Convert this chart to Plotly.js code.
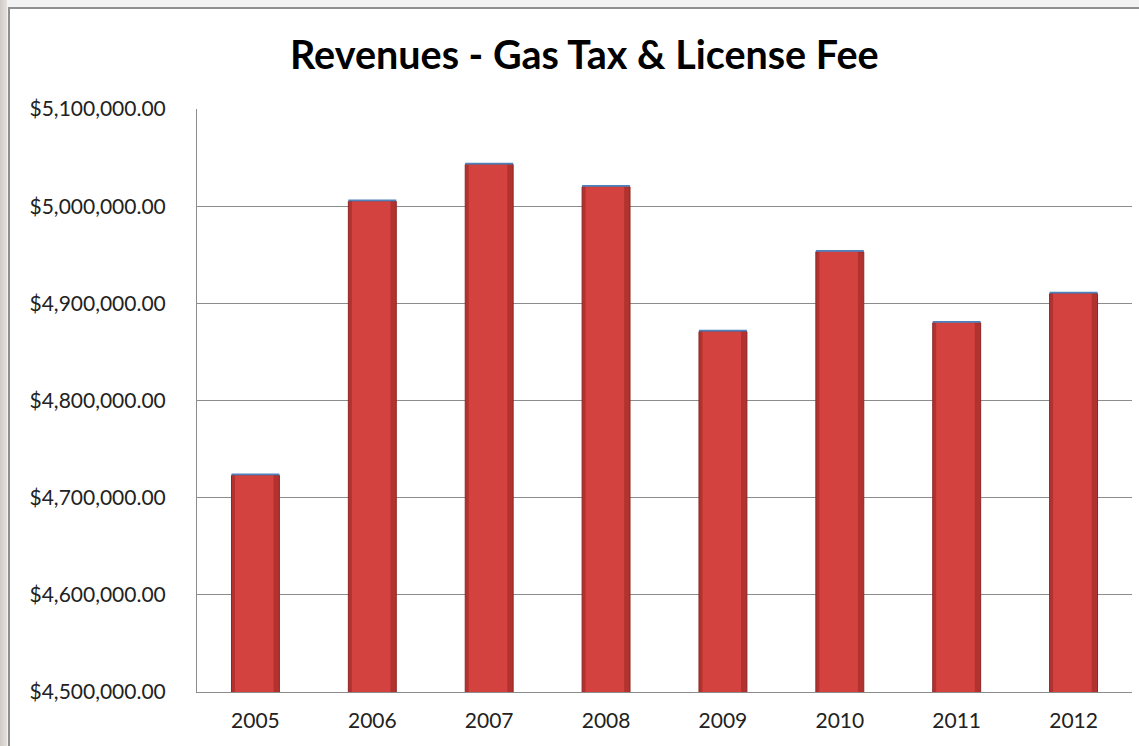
<!DOCTYPE html>
<html><head><meta charset="utf-8">
<script src="https://cdn.plot.ly/plotly-3.0.1.min.js"></script>
<style>
html,body{margin:0;padding:0;background:#f2f2f2;overflow:hidden;width:1139px;height:746px;}
#strip{position:absolute;left:0;top:0;width:7px;height:746px;background:linear-gradient(to right,#cfcac4,#e4e1de);}
#frame{position:absolute;left:8px;top:7px;width:1200px;height:800px;border-top:2px solid #8f8f8f;border-left:2px solid #8f8f8f;background:#fff;}
#chart{position:absolute;left:0;top:0;width:1139px;height:746px;}
</style>
</head><body><div id="strip"></div><div id="frame"></div><div id="chart"></div>
<script>
const years = ['2005','2006','2007','2008','2009','2010','2011','2012'];
const revenues = [4723000, 5005000, 5043000, 5020000, 4871000, 4953000, 4880000, 4910000];
const topBand = [1800, 1800, 1800, 1800, 1800, 1800, 1800, 1800];
const yTicks = [4500000, 4600000, 4700000, 4800000, 4900000, 5000000, 5100000];
const yTickText = ['$4,500,000.00','$4,600,000.00','$4,700,000.00','$4,800,000.00','$4,900,000.00','$5,000,000.00','$5,100,000.00'];

const traces = [
  {type:'bar', x:years, y:revenues, width:0.41, marker:{color:'#b23230', line:{color:'#8e2524', width:1}}, hoverinfo:'y'},
  {type:'bar', x:years, y:revenues, width:0.33, offset:-0.175, marker:{color:'#d4423f', line:{width:0}}, hoverinfo:'skip'},
  {type:'bar', x:years, y:topBand, base:revenues, width:0.41, marker:{color:'#4f81bd', line:{width:0}}, hoverinfo:'skip'}
];
const layout = {
  width:1139, height:746,
  margin:{l:197, r:7, t:109, b:54},
  paper_bgcolor:'rgba(0,0,0,0)', plot_bgcolor:'rgba(0,0,0,0)',
  barmode:'overlay', showlegend:false,
  font:{family:'Lato, "Open Sans", sans-serif', color:'#222'},
  title:{text:'<b>Revenues - Gas Tax & License Fee</b>', x:0.513, xanchor:'center', y:0.926, yanchor:'middle', font:{size:39.5, color:'#000', family:'Lato, "Open Sans", sans-serif'}},
  xaxis:{type:'category', showgrid:false, showline:true, linecolor:'#8c8c8c', linewidth:1, ticks:'', tickfont:{size:21, color:'#222'}, ticklabelstandoff:10},
  yaxis:{range:[4500000,5100000], tickvals:yTicks, ticktext:yTickText, showgrid:true, gridcolor:'#8c8c8c', gridwidth:1, showline:true, linecolor:'#8c8c8c', linewidth:1, ticks:'', tickfont:{size:21, color:'#222'}, ticklabelstandoff:26, zeroline:false}
};
Plotly.newPlot('chart', traces, layout, {displayModeBar:false, staticPlot:true});
</script></body></html>
